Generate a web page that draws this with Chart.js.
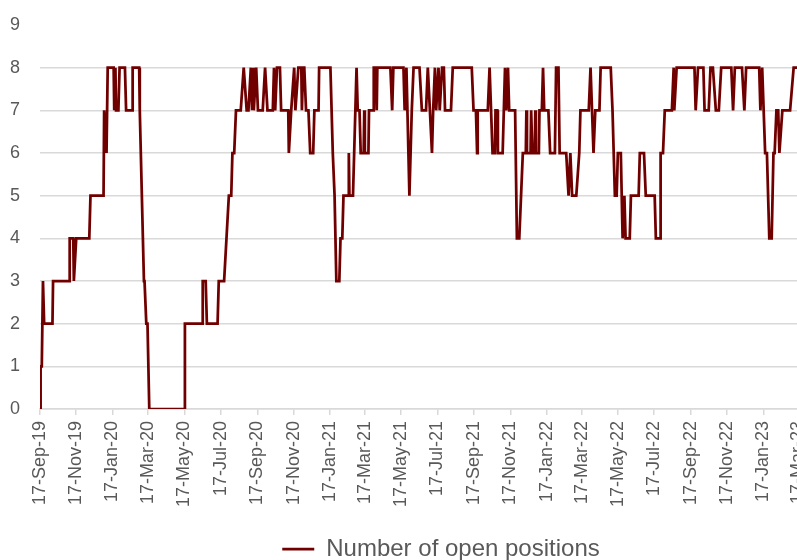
<!DOCTYPE html>
<html>
<head>
<meta charset="utf-8">
<script src="https://cdn.jsdelivr.net/npm/chart.js@4/dist/chart.umd.min.js"></script>
<style>
    body { margin: 0; overflow: hidden; background: #fff; }
    #wrap { position: absolute; left: 0; top: 0; width: 826px; height: 560px; }
</style>
</head>
<body>
<div id="wrap"><canvas id="positionsChart" width="826" height="560"></canvas></div>
<script>
// x axis labels, one every two months
var tickLabels = ['17-Sep-19', '17-Nov-19', '17-Jan-20', '17-Mar-20', '17-May-20', '17-Jul-20',
    '17-Sep-20', '17-Nov-20', '17-Jan-21', '17-Mar-21', '17-May-21', '17-Jul-21', '17-Sep-21',
    '17-Nov-21', '17-Jan-22', '17-Mar-22', '17-May-22', '17-Jul-22', '17-Sep-22', '17-Nov-22',
    '17-Jan-23', '17-Mar-23'];

var yTicks = [0, 1, 2, 3, 4, 5, 6, 7, 8, 9];

// dates where the count changes
var dates = [
    '2019-09-17', '2019-09-18', '2019-09-20', '2019-09-22', '2019-09-24', '2019-10-08', '2019-10-09', '2019-11-05', '2019-11-06', '2019-11-12',
    '2019-11-13', '2019-11-17', '2019-12-09', '2019-12-11', '2020-01-02', '2020-01-03', '2020-01-07', '2020-01-09', '2020-01-19', '2020-01-20',
    '2020-01-22', '2020-01-23', '2020-01-27', '2020-01-29', '2020-02-07', '2020-02-09', '2020-02-19', '2020-02-20', '2020-03-02', '2020-03-03',
    '2020-03-10', '2020-03-11', '2020-03-14', '2020-03-16', '2020-03-19', '2020-05-17', '2020-05-18', '2020-06-16', '2020-06-17', '2020-06-22',
    '2020-06-24', '2020-07-12', '2020-07-14', '2020-07-23', '2020-07-27', '2020-07-31', '2020-08-04', '2020-08-06', '2020-08-09', '2020-08-12',
    '2020-08-20', '2020-08-25', '2020-08-30', '2020-09-02', '2020-09-06', '2020-09-08', '2020-09-10', '2020-09-11', '2020-09-15', '2020-09-18',
    '2020-09-26', '2020-09-30', '2020-10-04', '2020-10-13', '2020-10-15', '2020-10-17', '2020-10-20', '2020-10-25', '2020-10-27', '2020-11-08',
    '2020-11-09', '2020-11-13', '2020-11-18', '2020-11-20', '2020-11-25', '2020-11-30', '2020-12-01', '2020-12-03', '2020-12-05', '2020-12-08',
    '2020-12-12', '2020-12-15', '2020-12-20', '2020-12-22', '2020-12-29', '2020-12-30', '2021-01-18', '2021-01-22', '2021-01-25', '2021-01-28',
    '2021-02-02', '2021-02-04', '2021-02-07', '2021-02-09', '2021-02-17', '2021-02-18', '2021-02-19', '2021-02-25', '2021-03-01', '2021-03-03',
    '2021-03-05', '2021-03-08', '2021-03-10', '2021-03-15', '2021-03-16', '2021-03-17', '2021-03-23', '2021-03-24', '2021-03-31', '2021-04-01',
    '2021-04-04', '2021-04-06', '2021-04-07', '2021-04-29', '2021-05-02', '2021-05-04', '2021-05-21', '2021-05-23', '2021-05-26', '2021-05-31',
    '2021-06-04', '2021-06-07', '2021-06-17', '2021-06-21', '2021-06-28', '2021-07-01', '2021-07-08', '2021-07-10', '2021-07-13', '2021-07-15',
    '2021-07-19', '2021-07-21', '2021-07-25', '2021-07-28', '2021-07-30', '2021-08-09', '2021-08-12', '2021-09-13', '2021-09-16', '2021-09-20',
    '2021-09-22', '2021-09-23', '2021-10-10', '2021-10-13', '2021-10-18', '2021-10-22', '2021-10-23', '2021-10-26', '2021-10-27', '2021-11-04',
    '2021-11-08', '2021-11-10', '2021-11-13', '2021-11-15', '2021-11-25', '2021-11-28', '2021-12-02', '2021-12-05', '2021-12-08', '2021-12-13',
    '2021-12-14', '2021-12-15', '2021-12-21', '2021-12-22', '2021-12-24', '2021-12-28', '2021-12-29', '2021-12-30', '2022-01-04', '2022-01-05',
    '2022-01-09', '2022-01-11', '2022-01-13', '2022-01-20', '2022-01-23', '2022-01-31', '2022-02-02', '2022-02-06', '2022-02-08', '2022-02-19',
    '2022-02-23', '2022-02-26', '2022-03-01', '2022-03-08', '2022-03-13', '2022-03-15', '2022-03-29', '2022-04-01', '2022-04-06', '2022-04-09',
    '2022-04-16', '2022-04-18', '2022-05-05', '2022-05-08', '2022-05-12', '2022-05-15', '2022-05-17', '2022-05-22', '2022-05-25', '2022-05-28',
    '2022-05-30', '2022-06-06', '2022-06-08', '2022-06-21', '2022-06-23', '2022-06-30', '2022-07-03', '2022-07-18', '2022-07-20', '2022-07-27',
    '2022-07-28', '2022-08-01', '2022-08-04', '2022-08-16', '2022-08-19', '2022-08-20', '2022-08-24', '2022-09-23', '2022-09-25', '2022-09-29',
    '2022-10-08', '2022-10-10', '2022-10-17', '2022-10-20', '2022-10-24', '2022-10-29', '2022-11-03', '2022-11-07', '2022-11-24', '2022-11-27',
    '2022-11-30', '2022-12-12', '2022-12-16', '2022-12-19', '2023-01-10', '2023-01-12', '2023-01-15', '2023-01-20', '2023-01-23', '2023-01-27',
    '2023-01-31', '2023-02-03', '2023-02-05', '2023-02-08', '2023-02-11', '2023-02-13', '2023-02-18', '2023-03-03', '2023-03-09', '2023-03-20'
];

var openPositions = [
    0, 1, 1, 3, 2, 2, 3, 3, 4, 4,
    3, 4, 4, 5, 5, 7, 6, 8, 8, 7,
    8, 7, 7, 8, 8, 7, 7, 8, 8, 7,
    3, 3, 2, 2, 0, 0, 2, 2, 3, 3,
    2, 2, 3, 3, 4, 5, 5, 6, 6, 7,
    7, 8, 7, 7, 8, 7, 8, 7, 8, 7,
    7, 8, 7, 7, 8, 7, 8, 8, 7, 7,
    6, 7, 8, 7, 8, 8, 7, 8, 8, 7,
    7, 6, 6, 7, 7, 8, 8, 6, 5, 3,
    3, 4, 4, 5, 5, 6, 5, 5, 7, 8,
    7, 7, 6, 6, 7, 6, 6, 7, 7, 8,
    8, 7, 8, 8, 7, 8, 8, 7, 8, 5,
    7, 8, 8, 7, 7, 8, 6, 7, 8, 7,
    8, 7, 8, 8, 7, 7, 8, 8, 7, 7,
    6, 7, 7, 8, 6, 6, 7, 7, 6, 6,
    8, 7, 8, 7, 7, 4, 4, 5, 6, 6,
    7, 6, 6, 7, 6, 6, 7, 6, 6, 7,
    7, 8, 7, 7, 6, 6, 8, 8, 6, 6,
    5, 6, 5, 5, 6, 7, 7, 8, 6, 7,
    7, 8, 8, 7, 5, 5, 6, 6, 4, 5,
    4, 4, 5, 5, 6, 6, 5, 5, 4, 4,
    6, 6, 7, 7, 8, 7, 8, 8, 7, 8,
    8, 7, 7, 8, 8, 7, 7, 8, 8, 7,
    8, 8, 7, 8, 8, 7, 8, 6, 6, 4,
    4, 6, 6, 7, 7, 6, 7, 7, 8, 8
];

var monthNames = ['Jan', 'Feb', 'Mar', 'Apr', 'May', 'Jun', 'Jul', 'Aug', 'Sep', 'Oct', 'Nov', 'Dec'];
var startDay = Date.UTC(2019, 8, 17);

// days since the first date
function dayOffset(s) {
    var p = s.split('-');
    return Math.round((Date.UTC(+p[0], +p[1] - 1, +p[2]) - startDay) / 86400000);
}

function labelOffset(label) {
    var p = label.split('-');
    return Math.round((Date.UTC(2000 + (+p[2]), monthNames.indexOf(p[1]), +p[0]) - startDay) / 86400000);
}

var tickDays = tickLabels.map(labelOffset);

var points = dates.map(function (d, i) {
    return { x: dayOffset(d), y: openPositions[i] };
});

var textColor = '#595959';
var gridColor = '#d9d9d9';

// the legend sits a bit right of the canvas centre in the original
var legendShift = {
    id: 'legendShift',
    afterLayout: function (chart) {
        chart.legend.left += 28;
        chart.legend.right += 28;
    }
};

var ctx = document.getElementById('positionsChart').getContext('2d');
var chart = new Chart(ctx, {
    type: 'line',
    data: {
        datasets: [{
            label: 'Number of open positions',
            data: points,
            borderColor: '#700000',
            backgroundColor: '#700000',
            borderWidth: 2.75,
            pointRadius: 0,
            tension: 0,
            fill: false
        }]
    },
    options: {
        responsive: false,
        animation: false,
        layout: { padding: { top: 25, left: 0, right: 0, bottom: -11 } },
        scales: {
            x: {
                type: 'linear',
                min: 0,
                max: 1290,
                afterBuildTicks: function (scale) {
                    scale.ticks = tickDays.map(function (v) { return { value: v }; });
                },
                afterFit: function (scale) { scale.height = 128; },
                ticks: {
                    autoSkip: false,
                    minRotation: 90,
                    maxRotation: 90,
                    padding: 6,
                    color: textColor,
                    font: { family: 'Liberation Sans, Arial, sans-serif', size: 18 },
                    callback: function (value) {
                        var i = tickDays.indexOf(value);
                        return i >= 0 ? tickLabels[i] : '';
                    }
                },
                grid: {
                    drawOnChartArea: false,
                    drawTicks: true,
                    tickLength: 6,
                    color: gridColor,
                    lineWidth: 1.5
                },
                border: { color: gridColor, width: 1.5 }
            },
            y: {
                min: 0,
                max: 9,
                afterBuildTicks: function (scale) {
                    scale.ticks = yTicks.map(function (v) { return { value: v }; });
                },
                afterFit: function (scale) {
                    scale.width = 40;
                    // tick padding should not push the plot down
                    scale.paddingTop = 10;
                    scale.paddingBottom = 10;
                },
                ticks: {
                    padding: 20,
                    color: textColor,
                    font: { family: 'Liberation Sans, Arial, sans-serif', size: 18 }
                },
                grid: {
                    drawTicks: false,
                    lineWidth: 1.5,
                    color: function (c) {
                        return c.tick && c.tick.value === 9 ? 'rgba(0,0,0,0)' : gridColor;
                    }
                },
                border: { display: false }
            }
        },
        plugins: {
            tooltip: { enabled: false },
            legend: {
                position: 'bottom',
                labels: {
                    usePointStyle: true,
                    pointStyle: 'line',
                    pointStyleWidth: 32,
                    boxHeight: 20,
                    padding: 0,
                    color: textColor,
                    font: { family: 'Liberation Sans, Arial, sans-serif', size: 24 }
                }
            }
        }
    },
    plugins: [legendShift]
});
</script>
</body>
</html>
